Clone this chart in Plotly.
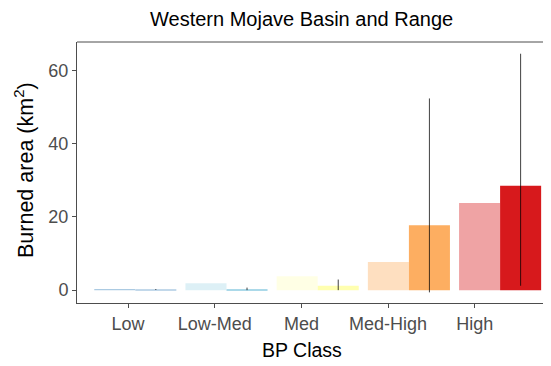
import plotly.graph_objects as go

classes = ["Low", "Low-Med", "Med", "Med-High", "High"]
first_vals = [0.3, 1.9, 3.8, 7.7, 23.8]
second_vals = [0.15, 0.25, 1.2, 17.7, 28.5]
second_lower = [0.05, 0.0, 0.0, -0.6, 1.2]
second_upper = [0.3, 0.7, 2.9, 52.3, 64.5]
first_colors = ["rgba(44,123,182,0.4)", "rgba(171,217,233,0.4)", "rgba(255,255,191,0.4)",
                "rgba(253,174,97,0.4)", "rgba(215,25,28,0.4)"]
second_colors = ["#C2D8EA", "#ABD9E9", "#FFFFB0", "#FDAE61", "#D7191C"]
y_ticks = [0, 20, 40, 60]

FONT = "Liberation Sans, Arial, sans-serif"
OFF = 8  # page body margin of the browser
W, H = 551 - OFF, 366 - OFF
# panel edges in page pixels
P_LEFT, P_TOP, P_BOTTOM, P_RIGHT = 77, 42, 303, 551
L = P_LEFT - OFF
T = P_TOP - OFF
B = H - (P_BOTTOM - OFF)
pw = P_RIGHT - P_LEFT
ph = P_BOTTOM - P_TOP

def px_x(px):
    return (px - P_LEFT) / pw

def px_y(py):
    return (P_BOTTOM - py) / ph

# pixel positions of bar-pair centres and of category labels
bar0, bar_sp = 135.3, 91.2
lab0, lab_sp = 128.0, 86.7
xpos = list(range(len(classes)))
tick_pos = [(lab0 + i * lab_sp - bar0) / bar_sp for i in xpos]

fig = go.Figure()
fig.add_trace(go.Bar(
    x=xpos, y=first_vals,
    marker=dict(color=first_colors, line=dict(width=0)),
    showlegend=False, offsetgroup="a", hoverinfo="skip",
))
fig.add_trace(go.Bar(
    x=xpos, y=second_vals,
    marker=dict(color=second_colors, line=dict(width=0)),
    error_y=dict(type="data", symmetric=False,
                 array=[u - m for u, m in zip(second_upper, second_vals)],
                 arrayminus=[m - l for m, l in zip(second_vals, second_lower)],
                 color="rgba(0,0,0,0.75)", thickness=1, width=0),
    showlegend=False, offsetgroup="b", hoverinfo="skip",
))

fig.update_layout(
    width=W, height=H,
    margin=dict(l=L, r=0, t=T, b=B, autoexpand=False),
    plot_bgcolor="white", paper_bgcolor="white",
    barmode="group", bargap=0.1, bargroupgap=0,
    font=dict(family=FONT),
    xaxis=dict(
        type="linear", automargin=False,
        range=[-(bar0 - P_LEFT) / bar_sp, (P_RIGHT - bar0) / bar_sp],
        tickmode="array", tickvals=tick_pos, ticktext=classes,
        showgrid=False, zeroline=False, showline=True, linecolor="#4D4D4D", linewidth=1,
        ticks="outside", ticklen=4, tickcolor="#4D4D4D", tickwidth=1,
        tickfont=dict(size=18, color="#4D4D4D", family=FONT),
    ),
    yaxis=dict(
        range=[-3.5, 67.7], tickvals=y_ticks, automargin=False,
        showgrid=False, zeroline=False, showline=True, linecolor="#4D4D4D", linewidth=1,
        ticks="outside", ticklen=4, tickcolor="#4D4D4D", tickwidth=1,
        tickfont=dict(size=18, color="#4D4D4D", family=FONT),
    ),
    shapes=[dict(type="line", xref="paper", yref="paper", x0=0, x1=1.05, y0=1, y1=1,
                 line=dict(color="#4D4D4D", width=1))],
    annotations=[
        dict(text="Western Mojave Basin and Range", xref="paper", yref="paper",
             x=px_x(301.5), y=px_y(19.5), xanchor="center", yanchor="middle", borderpad=0,
             showarrow=False, font=dict(size=20, color="black", family=FONT)),
        dict(text="BP Class", xref="paper", yref="paper",
             x=px_x(301.5), y=px_y(350), xanchor="center", yanchor="middle",
             showarrow=False, font=dict(size=19.5, color="black", family=FONT)),
        dict(text="Burned area (km<sup>2</sup>)", xref="paper", yref="paper",
             x=px_x(24), y=px_y(170), xanchor="center", yanchor="middle",
             textangle=-90, showarrow=False, font=dict(size=21.5, color="black", family=FONT)),
    ],
)

fig.write_html("out.html")
